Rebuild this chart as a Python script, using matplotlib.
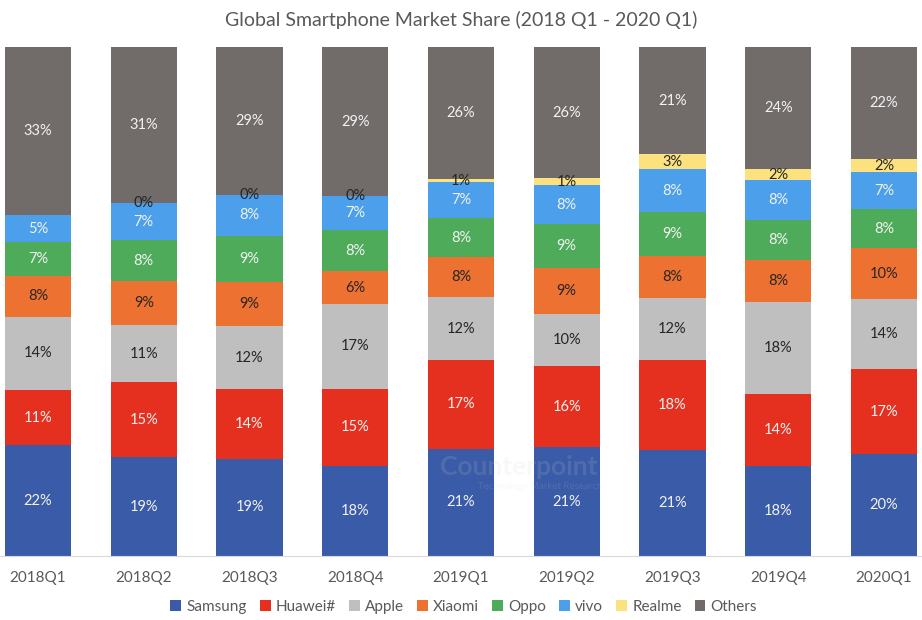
import matplotlib.pyplot as plt
import numpy as np

plt.rcParams['font.family'] = ['Lato', 'DejaVu Sans']

quarters = ['2018Q1', '2018Q2', '2018Q3', '2018Q4', '2019Q1',
            '2019Q2', '2019Q3', '2019Q4', '2020Q1']

# market share in %
samsung = [21.8, 19.4, 19.1, 17.7, 21.1, 21.4, 20.8, 17.7, 20.0]
huawei = [10.8, 14.7, 13.7, 15.2, 17.4, 15.9, 17.8, 14.1, 16.7]
apple = [14.4, 11.3, 12.3, 16.6, 12.3, 10.2, 12.0, 18.1, 13.8]
xiaomi = [8.0, 8.6, 8.8, 6.4, 7.9, 9.0, 8.4, 8.2, 10.0]
oppo = [6.6, 8.1, 8.9, 8.1, 7.7, 8.7, 8.6, 8.0, 7.6]
vivo = [5.3, 7.2, 8.2, 6.7, 7.0, 7.6, 8.4, 7.8, 7.4]
realme = [np.nan, 0.0, 0.0, 0.0, 0.7, 1.4, 2.9, 2.1, 2.4]
others = [33.1, 30.7, 29.0, 29.3, 25.9, 25.8, 21.1, 24.0, 22.1]

series = [
    ('Samsung', samsung, '#3a5ba7', '#f2f2f2'),
    ('Huawei#', huawei, '#e5301f', '#f2f2f2'),
    ('Apple', apple, '#bfbfbf', '#262626'),
    ('Xiaomi', xiaomi, '#ed7130', '#262626'),
    ('Oppo', oppo, '#4dab5a', '#f2f2f2'),
    ('vivo', vivo, '#4b9feb', '#f2f2f2'),
    ('Realme', realme, '#fbe27f', '#262626'),
    ('Others', others, '#716b6a', '#f2f2f2'),
]

fig = plt.figure(figsize=(9.22, 6.2), dpi=100)
ax = fig.add_axes([0, 0.1032, 1, 0.821])

x = np.arange(len(quarters))
bottom = np.zeros(len(quarters))
for name, vals, col, tcol in series:
    v = np.array(vals, dtype=float)
    h = np.nan_to_num(v)
    ax.bar(x, h, 0.625, bottom=bottom, color=col, label=name, linewidth=0)
    for i in range(len(x)):
        if np.isnan(v[i]):
            continue
        ax.text(x[i], bottom[i] + h[i] / 2, '%.0f%%' % v[i], ha='center',
                va='center', fontsize=10.5, color=tcol)
    bottom = bottom + h

ax.set_xlim(-0.36, 8.36)
ax.set_ylim(0, 100)
ax.set_xticks(x)
ax.set_xticklabels(quarters, fontsize=11, color='#595959')
ax.tick_params(axis='x', length=0, pad=11)
ax.set_yticks([])
for s in ['top', 'left', 'right']:
    ax.spines[s].set_visible(False)
ax.spines['bottom'].set_color('#d9d9d9')

# faint watermark
ax.text(4.55, 17.5, 'Counterpoint', ha='center', va='center', fontsize=19,
        fontweight='bold', color='#d0d0d0', alpha=0.15, zorder=5)
ax.text(4.75, 13.6, 'Technology Market Research', ha='center', va='center',
        fontsize=7, color='#d0d0d0', alpha=0.15, zorder=5)

fig.text(0.5, 1 - 20 / 620, 'Global Smartphone Market Share (2018 Q1 - 2020 Q1)',
         ha='center', va='center', fontsize=14, color='#595959')

fig.legend(loc='center', bbox_to_anchor=(0.503, 0.021), ncol=8, frameon=False,
           fontsize=11, labelcolor='#595959', handlelength=0.7,
           handleheight=0.7, handletextpad=0.35, columnspacing=0.85)

plt.savefig('out.png')
